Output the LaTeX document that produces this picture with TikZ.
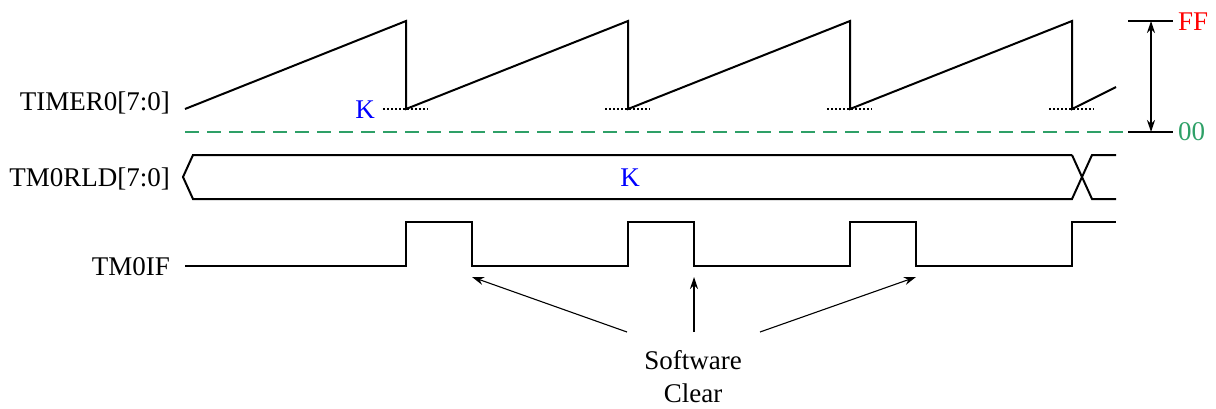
\documentclass[tikz,border=0pt]{standalone}
\usepackage{fontspec}
\setmainfont{Liberation Serif}
\usetikzlibrary{arrows.meta}
\definecolor{levelgreen}{RGB}{46,160,103}
\tikzset{
    wave/.style={line width=2pt, line join=miter},
    sig/.style={anchor=base east, inner sep=0pt},
    val/.style={anchor=base, inner sep=0pt},
    reload/.style={line width=1.5pt, dash pattern=on 2pt off 2pt},
    zero/.style={levelgreen, line width=1.8pt, dash pattern=on 14pt off 8pt},
    pointer/.style={line width=1.1pt, -{Stealth[length=12pt, width=8pt]}}
}

\begin{document}
\begin{tikzpicture}[x=1pt, y=-1pt, font=\fontsize{27}{33}\selectfont]
    \useasboundingbox (0,0) rectangle (1216,408);
    % signal names
    \node[sig] (timer) at (170,110) {TIMER0[7:0]};
    \node[sig] (reld) at (170,186) {TM0RLD[7:0]};
    \node[sig] (flag) at (170,275) {TM0IF};

    % counter ramp
    \draw[wave] (185,109) -- (406,21) -- (406,109) -- (628,21) -- (628,109)
        -- (850,21) -- (850,109) -- (1072,21) -- (1072,109) -- (1116,87);
    \foreach \x in {406,628,850,1072}
        \draw[reload] (\x-23,109) -- (\x+22,109);
    \node[val, text=blue] (kcnt) at (365,118) {K};
    \draw[zero] (185,132) -- (1142,132);

    % range
    \coordinate (top) at (1151,21);
    \coordinate (bot) at (1151,132);
    \draw[line width=1.5pt] (1128,21) -- (1173,21);
    \draw[line width=1.5pt] (1128,132) -- (1173,132);
    \draw[line width=1.5pt, {Stealth[length=12pt, width=8pt]}-{Stealth[length=12pt, width=8pt]}] (top) -- (bot);
    \node[val, anchor=base west, text=red] (ff) at (1178,30) {FF};
    \node[val, anchor=base west, text=levelgreen] (zz) at (1178,140) {00};

    % reload bus
    \draw[wave] (1072,155) -- (193,155) -- (183,177) -- (193,199) -- (1072,199)
        -- (1092,155) -- (1116,155);
    \draw[wave] (1072,155) -- (1092,199) -- (1116,199);
    \node[val, text=blue] (kbus) at (630,186) {K};

    % interrupt flag
    \draw[wave] (185,266) -- (406,266) -- (406,222) -- (472,222) -- (472,266)
        -- (628,266) -- (628,222) -- (694,222) -- (694,266) -- (850,266)
        -- (850,222) -- (916,222) -- (916,266) -- (1072,266) -- (1072,222) -- (1116,222);

    % software clear
    \node[val, align=center] (clr) at (693,402) {Software\\Clear};
    \coordinate (c1) at (472,277);
    \coordinate (c2) at (694,277);
    \coordinate (c3) at (916,277);
    \draw[pointer] (627,332) -- (c1);
    \draw[pointer] (694,332) -- (c2);
    \draw[pointer] (760,332) -- (c3);
\end{tikzpicture}
\end{document}
